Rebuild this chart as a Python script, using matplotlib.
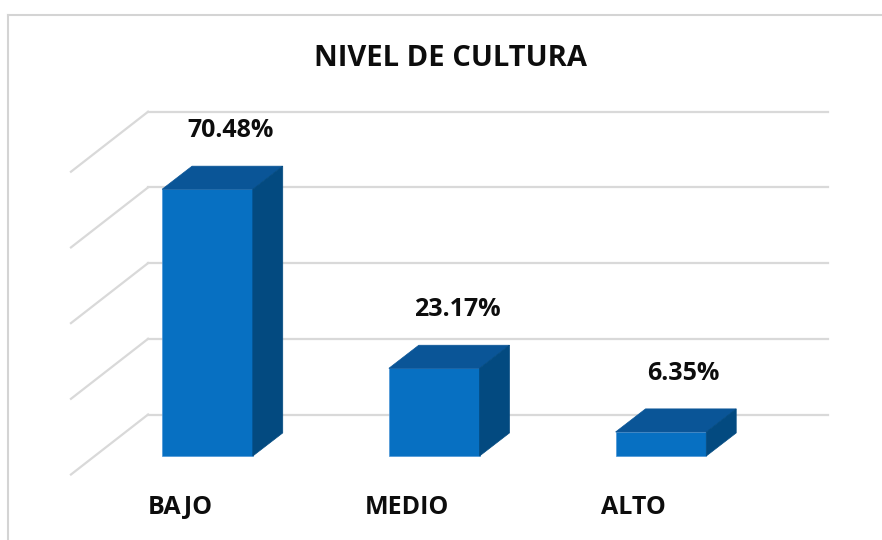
import matplotlib.pyplot as plt
from matplotlib.patches import Polygon
from matplotlib.lines import Line2D

# data
categories = ["BAJO", "MEDIO", "ALTO"]
values = [70.48, 23.17, 6.35]
labels = ["70.48%", "23.17%", "6.35%"]
grid_values = [0, 20, 40, 60, 80]
title = "NIVEL DE CULTURA"

# fake 3d look (offsets in data units)
bar_w = 0.40
depth_x, depth_y = 0.132, 6.1        # bar depth
wall_x, wall_y = 0.238, 10.96        # back wall offset from bar front
side_x, side_y = -0.34, -15.85       # left side wall lines

front_col = "#0770c2"
top_col = "#0a5597"
side_col = "#034a80"
grid_col = "#d9d9d9"
text_col = "#0d0d0d"
font = "Open Sans"

fig = plt.figure(figsize=(8.82, 5.4), dpi=100)
ax = fig.add_axes([0, 0, 1, 1])
ax.set_xlim(-0.915, 2.975)
ax.set_ylim(-22.19, 120.48)
ax.axis('off')

# back wall gridlines + side wall diagonals
x_left = -0.5 + wall_x
x_right = 2.5 + wall_x
for g in grid_values:
    ax.plot([x_left, x_right], [g + wall_y, g + wall_y], color=grid_col, lw=1.6, zorder=1)
    ax.plot([x_left, x_left + side_x], [g + wall_y, g + wall_y + side_y], color=grid_col, lw=1.6, zorder=1)

# bars
xs = list(range(len(categories)))
ax.bar(xs, values, width=bar_w, color=front_col, edgecolor="#4a95d6", linewidth=0.5, zorder=3)
for x, v in zip(xs, values):
    l, r = x - bar_w / 2, x + bar_w / 2
    top = Polygon([(l, v), (r, v), (r + depth_x, v + depth_y), (l + depth_x, v + depth_y)],
                  closed=True, facecolor=top_col, edgecolor=top_col, lw=0.5, zorder=3)
    side = Polygon([(r, 0), (r + depth_x, depth_y), (r + depth_x, v + depth_y), (r, v)],
                   closed=True, facecolor=side_col, edgecolor=side_col, lw=0.5, zorder=3)
    ax.add_patch(top)
    ax.add_patch(side)

# value labels
for x, v, t in zip(xs, values, labels):
    ax.text(x + 0.1, v + 15.5, t, ha='center', va='center', fontsize=18,
            fontweight='bold', family=font, color=text_col)

# category labels
for x, c in zip(xs, categories):
    ax.text(x - 0.12, -13.7, c, ha='center', va='center', fontsize=18,
            fontweight='bold', family=font, color=text_col)

fig.text(450 / 882, 1 - 58 / 540, title, ha='center', va='center', fontsize=21,
         fontweight='bold', family=font, color=text_col)

# chart frame
fig.add_artist(Line2D([8 / 882, 8 / 882], [0, 1 - 15 / 540], color="#d4d4d4", lw=1.5))
fig.add_artist(Line2D([8 / 882, 1], [1 - 15 / 540, 1 - 15 / 540], color="#d4d4d4", lw=1.5))

fig.savefig("out.png", dpi=100, facecolor="white")
